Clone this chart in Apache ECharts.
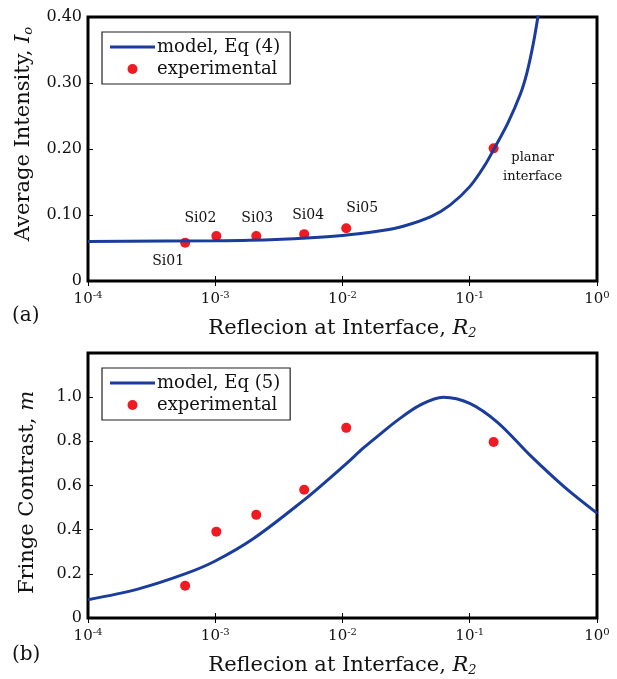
<!DOCTYPE html>
<html>
<head>
<meta charset="utf-8">
<script src="https://cdn.jsdelivr.net/npm/echarts@6/dist/echarts.min.js"></script>
<style>
  html, body { margin: 0; padding: 0; background: #fff; }
  #chart { width: 617px; height: 679px; }
</style>
</head>
<body>
<div id="chart"></div>
<script>
// measured samples (same R2 for both panels)
const sampleNames = ['Si01', 'Si02', 'Si03', 'Si04', 'Si05', 'planar\ninterface']
const rExp = [5.8e-4, 1.02e-3, 2.1e-3, 5.0e-3, 1.07e-2, 0.154]
const intensityExp = [0.058, 0.068, 0.068, 0.071, 0.080, 0.201]
const contrastExp = [0.146, 0.391, 0.467, 0.581, 0.861, 0.797]

// model curves
const rModelI = [1e-4, 1e-3, 3e-3, 0.01, 0.02, 0.03, 0.05, 0.07, 0.1, 0.13, 0.158, 0.2, 0.251, 0.282, 0.316, 0.343, 0.38]
const intensityModel = [0.060, 0.061, 0.063, 0.069, 0.076, 0.083, 0.098, 0.115, 0.143, 0.174, 0.203, 0.240, 0.284, 0.316, 0.360, 0.400, 0.455]
const rModelM = [1e-4, 2.5e-4, 6e-4, 1e-3, 2e-3, 5e-3, 8e-3, 0.011, 0.0146, 0.02, 0.027, 0.041, 0.062, 0.1, 0.166, 0.3, 0.55, 1.0]
const contrastModel = [0.083, 0.132, 0.203, 0.258, 0.36, 0.535, 0.635, 0.705, 0.77, 0.835, 0.895, 0.965, 1.0, 0.972, 0.885, 0.735, 0.595, 0.475]

const intensityTicks = [0, 0.1, 0.2, 0.3, 0.4]
const contrastTicks = [0, 0.2, 0.4, 0.6, 0.8, 1.0]

// label offsets (px) relative to each marker, top panel only
const labelOffsets = [[-17, 19], [-16, -18], [1, -18], [4, -19], [16, -20], [39, 19]]

const FONT = 'DejaVu Serif'
const BLUE = '#1a3c9c'
const RED = '#f01a22'
const LINE_ICON = 'path://M0,0 H45 V3 H0 Z'

const chart = echarts.init(document.getElementById('chart'))

const zip = (xs, ys) => xs.map((x, i) => [x, ys[i]])

const tick = { inside: true, length: 5, lineStyle: { color: '#000', width: 1 } }

function xAxes(gridIndex) {
  const base = {
    type: 'log', logBase: 10, min: 1e-4, max: 1, gridIndex,
    axisLine: { show: false },
    axisTick: tick,
    splitLine: { show: false }
  }
  return [
    {
      ...base,
      position: 'bottom',
      name: 'Reflecion at Interface, {i|R}{sub|2}',
      nameLocation: 'middle',
      nameGap: 36,
      nameTextStyle: {
        fontFamily: FONT, fontSize: 21, color: '#111',
        rich: {
          i: { fontFamily: FONT, fontStyle: 'italic', fontSize: 21, color: '#111' },
          sub: { fontFamily: FONT, fontStyle: 'italic', fontSize: 13, color: '#111', verticalAlign: 'bottom', padding: [10, 0, 0, 0] }
        }
      },
      axisLabel: {
        margin: 9,
        formatter: v => '{b|10}{s|' + Math.round(Math.log10(v)) + '}',
        rich: {
          b: { fontFamily: FONT, fontSize: 15, color: '#111', lineHeight: 18 },
          s: { fontFamily: FONT, fontSize: 10, color: '#111', verticalAlign: 'top', lineHeight: 10 }
        }
      }
    },
    { ...base, position: 'top', axisLabel: { show: false } }
  ]
}

function yAxes(gridIndex, max, ticks, fmt, title, shift) {
  const base = {
    type: 'value', min: 0, max, interval: ticks[1] - ticks[0], gridIndex,
    axisLine: { show: false },
    axisTick: tick,
    splitLine: { show: false }
  }
  return [
    {
      ...base,
      position: 'left',
      name: title,
      nameLocation: 'middle',
      nameGap: 50,
      nameTextStyle: {
        fontFamily: FONT, fontSize: 21, color: '#111',
        padding: shift > 0 ? [0, 0, 0, shift] : [0, -shift, 0, 0],
        rich: {
          i: { fontFamily: FONT, fontStyle: 'italic', fontSize: 21, color: '#111' },
          sub: { fontFamily: FONT, fontStyle: 'italic', fontSize: 13, color: '#111', verticalAlign: 'bottom', padding: [10, 0, 0, 0] }
        }
      },
      axisLabel: {
        margin: 6, fontFamily: FONT, fontSize: 16, color: '#111',
        formatter: v => (v > ticks[ticks.length - 1] + 1e-9 ? '' : fmt(v))
      }
    },
    { ...base, position: 'right', axisLabel: { show: false } }
  ]
}

const legendBase = {
  orient: 'vertical',
  left: 102,
  itemWidth: 45,
  itemHeight: 10,
  itemGap: 0,
  padding: [4, 10, 4, 8],
  backgroundColor: '#fff',
  borderColor: '#222',
  borderWidth: 1.2,
  borderRadius: 0,
  textStyle: { fontFamily: FONT, fontSize: 18, color: '#111', lineHeight: 22, padding: [0, 0, 0, -3] }
}

const option = {
  animation: false,
  backgroundColor: '#fff',
  grid: [
    { left: 88, top: 17, width: 509, height: 264, show: true, borderColor: '#000', borderWidth: 3, backgroundColor: 'transparent' },
    { left: 88, top: 353, width: 509, height: 265, show: true, borderColor: '#000', borderWidth: 3, backgroundColor: 'transparent' }
  ],
  xAxis: [...xAxes(0), ...xAxes(1)],
  yAxis: [
    ...yAxes(0, 0.4, intensityTicks, v => (v === 0 ? '0' : v.toFixed(2)), 'Average Intensity, {i|I}{sub|o}', 30),
    ...yAxes(1, 1.2, contrastTicks, v => (v === 0 ? '0' : v.toFixed(1)), 'Fringe Contrast, {i|m}', -14)
  ],
  legend: [
    { ...legendBase, top: 32, data: [{ name: 'model, Eq (4)', icon: LINE_ICON }, 'experimental'] },
    { ...legendBase, top: 368, data: [{ name: 'model, Eq (5)', icon: LINE_ICON }, 'experimental'] }
  ],
  graphic: [
    { type: 'text', left: 12, top: 306, style: { text: '(a)', font: '20px "DejaVu Serif"', fill: '#111' } },
    { type: 'text', left: 12, top: 645, style: { text: '(b)', font: '20px "DejaVu Serif"', fill: '#111' } }
  ],
  series: [
    {
      name: 'model, Eq (4)', type: 'line', xAxisIndex: 0, yAxisIndex: 0,
      data: zip(rModelI, intensityModel), smooth: 0.35, symbol: 'none', clip: true,
      lineStyle: { color: BLUE, width: 3 }, itemStyle: { color: BLUE }
    },
    {
      name: 'experimental', type: 'scatter', xAxisIndex: 0, yAxisIndex: 0,
      symbolSize: 10, itemStyle: { color: RED, opacity: 1 },
      data: rExp.map((r, i) => ({
        value: [r, intensityExp[i]],
        label: {
          show: true, formatter: sampleNames[i], position: 'inside', offset: labelOffsets[i],
          fontFamily: FONT, fontSize: i === 5 ? 13 : 14, lineHeight: 19, color: '#111', align: 'center'
        }
      }))
    },
    {
      name: 'model, Eq (5)', type: 'line', xAxisIndex: 2, yAxisIndex: 2,
      data: zip(rModelM, contrastModel), smooth: 0.35, symbol: 'none', clip: true,
      lineStyle: { color: BLUE, width: 3 }, itemStyle: { color: BLUE }
    },
    {
      name: 'experimental', type: 'scatter', xAxisIndex: 2, yAxisIndex: 2,
      symbolSize: 10, itemStyle: { color: RED, opacity: 1 },
      data: zip(rExp, contrastExp)
    }
  ]
}

chart.setOption(option)
</script>
</body>
</html>
